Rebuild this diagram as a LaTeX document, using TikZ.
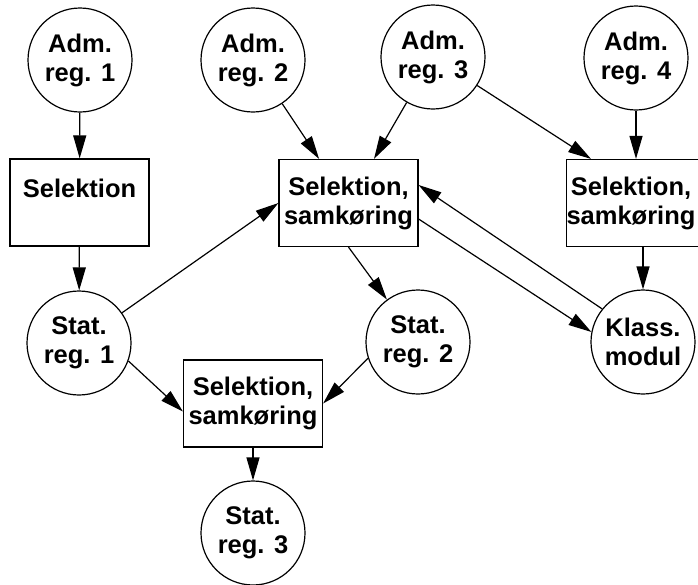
\documentclass[tikz,border=0pt]{standalone}
\usepackage{fontspec}
\setmainfont{Liberation Sans}
\usetikzlibrary{arrows.meta,calc}
\begin{document}
\begin{tikzpicture}[x=1pt,y=-1pt,
  every node/.style={font=\bfseries\fontsize{25.5}{29}\selectfont, align=center, inner sep=0pt},
  reg/.style={draw, circle, minimum size=104pt, line width=1.2pt},
  proc/.style={draw, rectangle, minimum width=139pt, minimum height=87pt, line width=1.2pt},
  flow/.style={-{Triangle[length=23pt,width=13pt]}, line width=1.2pt}]
\useasboundingbox (0,0) rectangle (698,584);

% administrative registers
\node[reg] (adm1) at (80,60)  {Adm.\\reg. 1};
\node[reg] (adm2) at (253,60) {Adm.\\reg. 2};
\node[reg] (adm3) at (433,57) {Adm.\\reg. 3};
\node[reg] (adm4) at (636,58) {Adm.\\reg. 4};

% processing steps
\node[proc] (sel)  at (79.5,202.5) {Selektion\\~};
\node[proc] (mbox) at (348.5,203)  {Selektion,\\samkøring};
\node[proc] (rbox) at (636,203)    {};
\node (rboxtxt) at (631,203)       {Selektion,\\samkøring};
\node[proc] (bbox) at (253,403.5)  {Selektion,\\samkøring};

% statistical registers and classification module
\node[reg] (stat1) at (79,343)  {Stat.\\reg. 1};
\node[reg] (stat2) at (418,342) {Stat.\\reg. 2};
\node[reg] (klass) at (643,342) {Klass.\\modul};
\node[reg] (stat3) at (253,533) {Stat.\\reg. 3};

% flows
\draw[flow] (adm1) -- (sel);
\draw[flow] (sel) -- (stat1);
\draw[flow] (adm2) -- (mbox);
\draw[flow] (adm3) -- (mbox);
\draw[flow] (adm3) -- ($(rbox.north)+(-45,0)$);
\draw[flow] (adm4) -- (adm4 |- rbox.north);
\draw[flow] (stat1) -- (mbox.west);
\draw[flow] (mbox.south) -- (stat2);
\draw[flow] ($(mbox.east)+(0,16)$) -- (klass.169);
\draw[flow] (klass.141) -- ($(mbox.east)+(0,-18)$);
\draw[flow] (klass |- rbox.south) -- (klass);
\draw[flow] (stat1.-20) -- ($(bbox.west)+(0,8)$);
\draw[flow] (stat2.198) -- (bbox.east);
\draw[flow] (bbox) -- (stat3);
\end{tikzpicture}
\end{document}
